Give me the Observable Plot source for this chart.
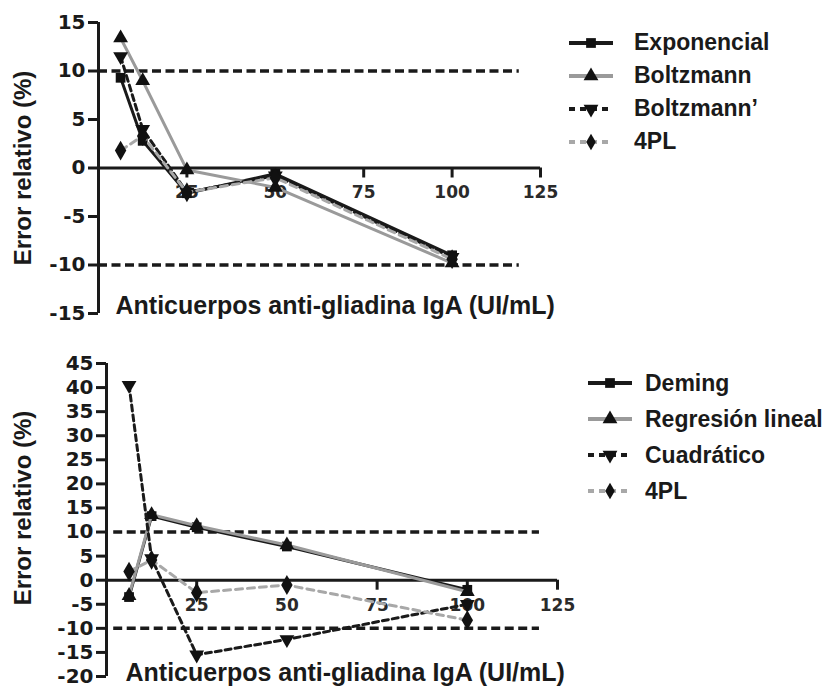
<!DOCTYPE html>
<html><head><meta charset="utf-8">
<script src="https://cdn.jsdelivr.net/npm/d3@7"></script>
<script src="https://cdn.jsdelivr.net/npm/@observablehq/plot@0.6"></script>
<style>
body{margin:0;background:#fff;font-family:"Liberation Sans",Arial,Helvetica,sans-serif;}
.panel{position:relative;width:830px;}
.panel > svg{display:block}
.legend{position:absolute;font-weight:bold;font-size:23px;color:#1a1a1a;line-height:1;}
.legend .row{display:flex;align-items:center;}
</style></head><body>
<div id="top" class="panel"></div>
<div id="bot" class="panel"></div>
<script>
// ---- data ----
const xVals = [6.25, 12.5, 25, 50, 100];
const xTicks = [25, 50, 75, 100, 125];

// top panel
const topNames = ["Exponencial", "Boltzmann", "Boltzmann\u2019", "4PL"];
const exponencial = [9.3, 2.8, -2.6, -0.6, -9.0];
const boltzmann = [13.4, 9.0, -0.2, -2.0, -9.8];
const boltzmannP = [11.5, 4.0, -2.5, -0.8, -9.2];
const pl4Top = [1.8, 3.3, -2.5, -1.0, -9.4];
const topYTicks = [-15, -10, -5, 0, 5, 10, 15];
const topLimits = [10, -10];

// bottom panel
const botNames = ["Deming", "Regresi\u00f3n lineal", "Cuadr\u00e1tico", "4PL"];
const deming = [-3.5, 13.3, 11.0, 7.0, -2.0];
const regLineal = [-3.2, 13.6, 11.3, 7.3, -2.4];
const cuadratico = [40.5, 4.5, -15.5, -12.3, -5.0];
const pl4Bot = [1.8, 4.2, -2.6, -1.0, -8.3];
const botYTicks = [-20, -15, -10, -5, 0, 5, 10, 15, 20, 25, 30, 35, 40, 45];
const botLimits = [10, -10];

const yTitle = "Error relativo (%)";
const xTitle = "Anticuerpos anti-gliadina IgA (UI/mL)";

// ---- styles ----
const styles = [
  {stroke: "#1a1a1a", width: 3, dash: null, symbol: "square", rotate: 0},
  {stroke: "#9a9a9a", width: 3, dash: null, symbol: "triangle", rotate: 0},
  {stroke: "#1a1a1a", width: 3, dash: "6,4", symbol: "triangle", rotate: 180},
  {stroke: "#a8a8a8", width: 3, dash: "7,5", symbol: "diamond", rotate: 0}
];
const tickFont = '"DejaVu Sans", Verdana, sans-serif';
const titleFont = '"Liberation Sans", Arial, Helvetica, sans-serif';

function makePanel(el, cfg) {
  const series = cfg.series.map((vals, k) => vals.map((v, i) => ({x: xVals[i], y: v, k})));
  const marks = [
    Plot.ruleY(cfg.limits, {x1: cfg.limitRange[0], x2: cfg.limitRange[1], stroke: "#1a1a1a", strokeWidth: 3.5, strokeDasharray: "9,4.5"}),
    Plot.ruleX([0], {stroke: "#1a1a1a", strokeWidth: 3}),
    Plot.ruleY(cfg.yTicks, {y: d => d, x1: 0, x2: 0, insetLeft: -10, stroke: "#1a1a1a", strokeWidth: 3}),
    Plot.text(cfg.yTicks, {y: d => d, x: 0, dx: -13, text: d => String(d), textAnchor: "end", fontSize: 20, fontWeight: "bold", fontFamily: tickFont, fill: "#1a1a1a"}),
    Plot.ruleY([0], {x1: 0, x2: 125, stroke: "#1a1a1a", strokeWidth: 3}),
    Plot.ruleX(xTicks, {x: d => d, y1: 0, y2: 0, insetBottom: -10, stroke: "#1a1a1a", strokeWidth: 3}),
    Plot.text(xTicks, {x: d => d, y: 0, dy: 25, text: d => String(d), fontSize: 17, fontWeight: "bold", fontFamily: tickFont, fill: "#2a2a2a"}),
    Plot.text([yTitle], {frameAnchor: "left", textAnchor: "middle", rotate: -90, dx: cfg.yTitleDx, dy: cfg.yTitleDy, fontSize: 24, fontWeight: "bold", fontFamily: titleFont, fill: "#1a1a1a"}),
    Plot.text([xTitle], {frameAnchor: "bottom-left", textAnchor: "start", lineAnchor: "middle", dx: cfg.xTitleDx, dy: cfg.xTitleDy, fontSize: 25, fontWeight: "bold", fontFamily: titleFont, fill: "#1a1a1a"})
  ];
  series.forEach((data, k) => {
    const s = styles[k];
    marks.push(Plot.line(data, {x: "x", y: "y", stroke: s.stroke, strokeWidth: s.width, strokeDasharray: s.dash}));
    marks.push(Plot.dot(data, {x: "x", y: "y", symbol: s.symbol, rotate: s.rotate, r: s.symbol === "diamond" ? 6 : 5.5, fill: "#111", stroke: "none"}));
  });
  const chart = Plot.plot({
    width: 830, height: cfg.height,
    marginLeft: cfg.ml, marginRight: cfg.mr, marginTop: cfg.mt, marginBottom: cfg.mb,
    x: {domain: [0, 125], axis: null},
    y: {domain: cfg.yDomain, axis: null},
    style: {fontFamily: titleFont, fontWeight: "bold", background: "white", overflow: "visible", color: "#1a1a1a"},
    marks
  });
  el.appendChild(chart);

  // legend
  const lg = d3.select(el).append("div").attr("class", "legend")
    .style("left", cfg.legend.left + "px").style("top", cfg.legend.top + "px");
  cfg.names.forEach((name, k) => {
    const s = styles[k];
    const row = lg.append("div").attr("class", "row").style("height", cfg.legend.rowH + "px");
    const sv = row.append("svg").attr("width", 44).attr("height", 20);
    sv.append("line").attr("x1", 0).attr("x2", 44).attr("y1", 10).attr("y2", 10)
      .attr("stroke", s.stroke).attr("stroke-width", 4).attr("stroke-dasharray", s.dash ? "6,5" : null);
    const symType = s.symbol === "square" ? d3.symbolSquare : s.symbol === "triangle" ? d3.symbolTriangle : d3.symbolDiamond;
    sv.append("path").attr("d", d3.symbol(symType, s.symbol === "diamond" ? 80 : 95)())
      .attr("transform", `translate(22,10) rotate(${s.rotate})`).attr("fill", "#111");
    row.append("span").style("margin-left", cfg.legend.gap + "px").text(name);
  });
}

makePanel(document.getElementById("top"), {
  height: 330, ml: 98, mr: 290, mt: 22, mb: 17,
  yDomain: [-15, 15], yTicks: topYTicks, limits: topLimits, limitRange: [0, 119],
  series: [exponencial, boltzmann, boltzmannP, pl4Top], names: topNames,
  yTitleDx: -75, yTitleDy: 0, xTitleDx: 17, xTitleDy: -8,
  legend: {left: 569, top: 26, rowH: 33, gap: 21}
});
makePanel(document.getElementById("bot"), {
  height: 358, ml: 106, mr: 273, mt: 33, mb: 12,
  yDomain: [-20, 45], yTicks: botYTicks, limits: botLimits, limitRange: [2, 120],
  series: [deming, regLineal, cuadratico, pl4Bot], names: botNames,
  yTitleDx: -83, yTitleDy: -12, xTitleDx: 19, xTitleDy: -4,
  legend: {left: 588, top: 35, rowH: 36, gap: 13}
});
</script>
</body></html>
